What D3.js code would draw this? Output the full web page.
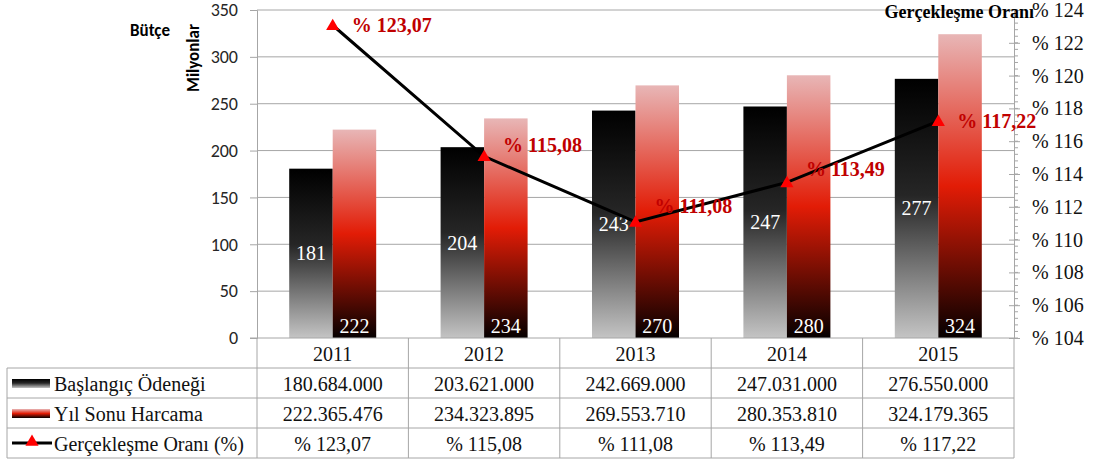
<!DOCTYPE html>
<html>
<head>
<meta charset="utf-8">
<script src="https://cdn.jsdelivr.net/npm/d3@7"></script>
<style>
  body { margin: 0; background: #fff; }
  svg { display: block; }
</style>
</head>
<body>
<svg id="chart"></svg>
<script>
// data
const years = ["2011", "2012", "2013", "2014", "2015"];
const baslangic = [180.684, 203.621, 242.669, 247.031, 276.550];      // milyon TL
const yilSonu = [222.365476, 234.323895, 269.553710, 280.353810, 324.179365];
const oran = [123.07, 115.08, 111.08, 113.49, 117.22];
const baslangicText = ["180.684.000", "203.621.000", "242.669.000", "247.031.000", "276.550.000"];
const yilSonuText = ["222.365.476", "234.323.895", "269.553.710", "280.353.810", "324.179.365"];
const oranText = ["% 123,07", "% 115,08", "% 111,08", "% 113,49", "% 117,22"];
const leftTicks = [0, 50, 100, 150, 200, 250, 300, 350];
const rightTicks = [104, 106, 108, 110, 112, 114, 116, 118, 120, 122, 124];
const seriesNames = ["Başlangıç Ödeneği", "Yıl Sonu Harcama", "Gerçekleşme Oranı (%)"];

const W = 1094, H = 463;
const plotLeft = 257, plotRight = 1014, plotTop = 10, plotBottom = 338;
const tableLeft = 7, rowH = 30;
const gridColor = "#a6a6a6";
const serif = '"Liberation Serif", "Times New Roman"';
const sans = 'Carlito, "Open Sans"';

const svg = d3.select("#chart").attr("width", W).attr("height", H);

// gradients
const defs = svg.append("defs");
const gBlack = defs.append("linearGradient").attr("id", "gBlack").attr("x1", 0).attr("y1", 0).attr("x2", 0).attr("y2", 1);
gBlack.append("stop").attr("offset", "0%").attr("stop-color", "#000");
gBlack.append("stop").attr("offset", "45%").attr("stop-color", "#262626");
gBlack.append("stop").attr("offset", "100%").attr("stop-color", "#c4c4c4");
const gRed = defs.append("linearGradient").attr("id", "gRed").attr("x1", 0).attr("y1", 0).attr("x2", 0).attr("y2", 1);
gRed.append("stop").attr("offset", "0%").attr("stop-color", "#e8b6b6");
gRed.append("stop").attr("offset", "50%").attr("stop-color", "#e21c06");
gRed.append("stop").attr("offset", "100%").attr("stop-color", "#050000");

const x = d3.scaleBand().domain(years).range([plotLeft, plotRight]);
const y = d3.scaleLinear().domain([0, 350]).range([plotBottom, plotTop]);
const y2 = d3.scaleLinear().domain([104, 124]).range([plotBottom, plotTop]);
const barW = 43.5;

// grid lines
svg.append("g").selectAll("line").data(leftTicks.filter(d => d > 0)).enter().append("line")
    .attr("x1", plotLeft).attr("x2", plotRight)
    .attr("y1", d => y(d)).attr("y2", d => y(d))
    .attr("stroke", gridColor).attr("stroke-width", 1);

// left axis
const yAxis = svg.append("g").attr("transform", `translate(${plotLeft},0)`)
    .call(d3.axisLeft(y).tickValues(leftTicks).tickSize(7).tickPadding(12));
yAxis.select(".domain").attr("stroke", gridColor);
yAxis.selectAll(".tick line").attr("stroke", gridColor);
yAxis.selectAll("text").style("font-family", sans).attr("font-size", 18).attr("fill", "#262626");

// right axis with minor ticks
const minor = d3.range(104, 124.01, 0.4);
svg.append("g").selectAll("line").data(minor).enter().append("line")
    .attr("x1", plotRight).attr("x2", plotRight + 4)
    .attr("y1", d => y2(d)).attr("y2", d => y2(d))
    .attr("stroke", gridColor);
const y2Axis = svg.append("g").attr("transform", `translate(${plotRight},0)`)
    .call(d3.axisRight(y2).tickValues(rightTicks).tickSize(6).tickPadding(12).tickFormat(d => "% " + d));
y2Axis.select(".domain").attr("stroke", gridColor);
y2Axis.selectAll(".tick line").attr("stroke", gridColor).attr("x1", -5);
y2Axis.selectAll("text").style("font-family", serif).attr("font-size", 20).attr("fill", "#111");

// bars
const bars = svg.append("g");
bars.selectAll(".b1").data(years).enter().append("rect")
    .attr("x", d => x(d) + x.bandwidth() / 2 - barW)
    .attr("y", (d, i) => y(baslangic[i]))
    .attr("width", barW)
    .attr("height", (d, i) => plotBottom - y(baslangic[i]))
    .attr("fill", "url(#gBlack)");
bars.selectAll(".b2").data(years).enter().append("rect")
    .attr("x", d => x(d) + x.bandwidth() / 2)
    .attr("y", (d, i) => y(yilSonu[i]))
    .attr("width", barW)
    .attr("height", (d, i) => plotBottom - y(yilSonu[i]))
    .attr("fill", "url(#gRed)");

// bar labels
bars.selectAll(".l1").data(years).enter().append("text")
    .style("font-family", serif)
    .attr("x", d => x(d) + x.bandwidth() / 2 - barW / 2)
    .attr("y", (d, i) => (y(baslangic[i]) + plotBottom) / 2)
    .attr("dy", "0.35em")
    .attr("text-anchor", "middle")
    .attr("font-size", 20).attr("fill", "#fff")
    .text((d, i) => Math.round(baslangic[i]));
bars.selectAll(".l2").data(years).enter().append("text")
    .style("font-family", serif)
    .attr("x", d => x(d) + x.bandwidth() / 2 + barW / 2)
    .attr("y", plotBottom - 12)
    .attr("dy", "0.35em")
    .attr("text-anchor", "middle")
    .attr("font-size", 20).attr("fill", "#fff")
    .text((d, i) => Math.round(yilSonu[i]));

// line
const cx = d => x(d) + x.bandwidth() / 2;
const line = d3.line().x((d, i) => cx(years[i])).y(d => y2(d));
svg.append("path").datum(oran).attr("d", line)
    .attr("fill", "none").attr("stroke", "#000").attr("stroke-width", 3);
const tri = d3.symbol().type(d3.symbolTriangle).size(75);
svg.append("g").selectAll("path").data(oran).enter().append("path")
    .attr("transform", (d, i) => `translate(${cx(years[i])},${y2(d) + 1})`)
    .attr("d", tri).attr("fill", "#ff0000");

// line labels (nudged like the original)
const nudge = [0, -11, -16, -13, 0];
svg.append("g").selectAll("text").data(oran).enter().append("text")
    .style("font-family", serif)
    .attr("x", (d, i) => cx(years[i]) + 19)
    .attr("y", (d, i) => y2(d) + nudge[i])
    .attr("dy", "0.35em")
    .attr("font-size", 20).attr("font-weight", "bold")
    .attr("fill", "#c00000")
    .text((d, i) => oranText[i]);

// titles
svg.append("text").style("font-family", sans).attr("x", 170).attr("y", 36).attr("text-anchor", "end")
    .attr("font-size", 17).attr("font-weight", "bold").text("Bütçe");
svg.append("text").style("font-family", sans).attr("transform", "translate(199,58) rotate(-90)").attr("text-anchor", "middle")
    .attr("font-size", 17).attr("font-weight", "bold").text("Milyonlar");
svg.append("text").style("font-family", serif).attr("x", 1034).attr("y", 18).attr("text-anchor", "end")
    .attr("font-size", 18).attr("font-weight", "bold").text("Gerçekleşme Oranı");

// data table
const table = svg.append("g");
[plotBottom + rowH, plotBottom + 2 * rowH, plotBottom + 3 * rowH, plotBottom + 4 * rowH].forEach(yy => {
    table.append("line").attr("x1", tableLeft).attr("x2", plotRight).attr("y1", yy).attr("y2", yy)
        .attr("stroke", gridColor);
});
svg.append("line").attr("x1", plotLeft - 7).attr("x2", plotRight).attr("y1", plotBottom).attr("y2", plotBottom).attr("stroke", gridColor);
table.append("line").attr("x1", tableLeft).attr("x2", tableLeft)
    .attr("y1", plotBottom + rowH).attr("y2", plotBottom + 4 * rowH).attr("stroke", gridColor);
years.forEach(yr => {
    table.append("line").attr("x1", x(yr)).attr("x2", x(yr))
        .attr("y1", plotBottom).attr("y2", plotBottom + 4 * rowH).attr("stroke", gridColor);
});
table.append("line").attr("x1", plotRight).attr("x2", plotRight)
    .attr("y1", plotBottom).attr("y2", plotBottom + 4 * rowH).attr("stroke", gridColor);

const rows = [years, baslangicText, yilSonuText, oranText];
rows.forEach((vals, r) => {
    table.selectAll(null).data(vals).enter().append("text")
        .style("font-family", serif)
        .attr("x", (d, i) => cx(years[i]))
        .attr("y", plotBottom + r * rowH + rowH / 2 + 1)
        .attr("dy", "0.35em")
        .attr("text-anchor", "middle")
        .attr("font-size", 20).attr("fill", "#111")
        .text(d => d);
});

// legend keys
seriesNames.forEach((name, r) => {
    const cyRow = plotBottom + (r + 1) * rowH + rowH / 2;
    if (r < 2) {
        table.append("rect").attr("x", 12).attr("y", cyRow - 4).attr("width", 38).attr("height", 9)
            .attr("fill", r === 0 ? "url(#gBlack)" : "url(#gRed)");
    } else {
        table.append("line").attr("x1", 12).attr("x2", 52).attr("y1", cyRow).attr("y2", cyRow)
            .attr("stroke", "#000").attr("stroke-width", 3);
        table.append("path").attr("transform", `translate(32,${cyRow - 1})`).attr("d", tri).attr("fill", "#ff0000");
    }
    table.append("text").style("font-family", serif).attr("x", 54).attr("y", cyRow + 1).attr("dy", "0.35em")
        .attr("font-size", 20).attr("fill", "#111").text(name);
});
</script>
</body>
</html>
